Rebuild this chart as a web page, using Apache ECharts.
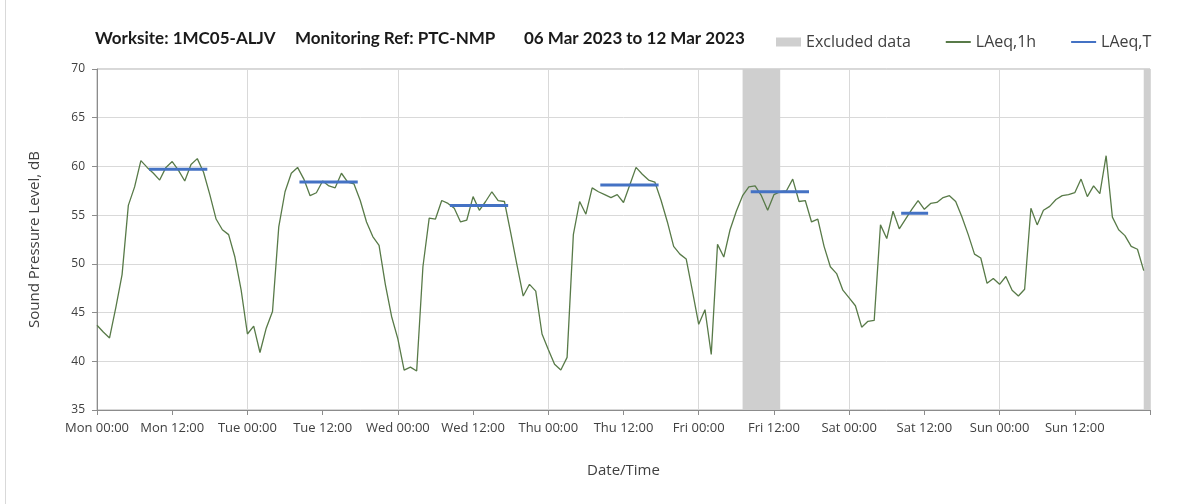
<!DOCTYPE html>
<html>
<head>
<meta charset="utf-8">
<script src="https://cdn.jsdelivr.net/npm/echarts@6/dist/echarts.min.js"></script>
<style>
  html, body { margin: 0; padding: 0; background: #fff; }
  #chart { width: 1203px; height: 504px; }
</style>
</head>
<body>
<div id="chart"></div>
<script>
// hourly LAeq,1h values, one array per day (00:00 .. 23:00)
const mon = [43.7, 43.0, 42.4, 45.5, 48.9, 56.0, 57.9, 60.6, 59.9, 59.3, 58.6, 59.9, 60.5, 59.6, 58.5, 60.2, 60.8, 59.4, 57.1, 54.6, 53.5, 53.0, 50.7, 47.3];
const tue = [42.8, 43.6, 40.9, 43.4, 45.1, 53.8, 57.4, 59.3, 59.9, 58.7, 57.0, 57.3, 58.5, 58.0, 57.8, 59.3, 58.4, 58.2, 56.5, 54.3, 52.8, 51.9, 47.9, 44.6];
const wed = [42.3, 39.1, 39.4, 39.0, 49.7, 54.7, 54.6, 56.5, 56.2, 55.7, 54.3, 54.5, 56.9, 55.5, 56.4, 57.4, 56.5, 56.4, 53.2, 49.9, 46.7, 47.9, 47.2, 42.8];
const thu = [41.2, 39.7, 39.1, 40.4, 53.0, 56.4, 55.1, 57.8, 57.4, 57.1, 56.8, 57.1, 56.3, 58.1, 59.9, 59.2, 58.6, 58.4, 56.5, 54.3, 51.8, 51.0, 50.5, 47.2];
const fri = [43.8, 45.3, 40.7, 52.0, 50.7, 53.5, 55.4, 57.0, 57.9, 58.0, 57.0, 55.5, 57.1, 57.4, 57.5, 58.7, 56.4, 56.5, 54.3, 54.6, 51.8, 49.7, 49.0, 47.3];
const sat = [46.5, 45.7, 43.5, 44.1, 44.2, 54.0, 52.6, 55.4, 53.6, 54.6, 55.6, 56.5, 55.6, 56.2, 56.3, 56.8, 57.0, 56.4, 54.8, 53.0, 51.0, 50.6, 48.0, 48.5];
const sun = [47.9, 48.7, 47.3, 46.7, 47.4, 55.7, 54.0, 55.5, 55.9, 56.6, 57.0, 57.1, 57.3, 58.7, 56.9, 58.0, 57.2, 61.1, 54.8, 53.5, 52.9, 51.8, 51.5, 49.3];

// LAeq,T per day (Mon..Sat), with start / end hour of the period
const laeqT = [59.7, 58.4, 56.0, 58.1, 57.4, 55.2];
const laeqTStart = [8.3, 8.3, 8.3, 8.3, 8.3, 8.3];
const laeqTEnd = [17.6, 17.6, 17.6, 17.6, 17.6, 12.6];

// excluded periods, hours from Mon 00:00
const excluded = [[103, 109], [167, 168]];

const dayNames = ["Mon", "Tue", "Wed", "Thu", "Fri", "Sat", "Sun"];

const hourly = [mon, tue, wed, thu, fri, sat, sun];
const lineData = [];
hourly.forEach(function (day, d) {
  day.forEach(function (v, h) {
    lineData.push([d * 24 + h, v]);
  });
});

const tData = [];
laeqT.forEach(function (v, d) {
  tData.push([d * 24 + laeqTStart[d], v]);
  tData.push([d * 24 + laeqTEnd[d], v]);
  tData.push([d * 24 + 20, "-"]);
});

const myChart = echarts.init(document.getElementById("chart"));

const titleStyle = { fontFamily: "Lato", fontSize: 17, fontWeight: "bold", color: "#1a1a1a" };

let option = {
  animation: false,
  title: [
    { text: "Worksite: 1MC05-ALJV", left: 95, top: 30, padding: 0, textStyle: titleStyle },
    { text: "Monitoring Ref: PTC-NMP", left: 295, top: 30, padding: 0, textStyle: titleStyle },
    { text: "06 Mar 2023 to 12 Mar 2023", left: 524, top: 30, padding: 0, textStyle: titleStyle }
  ],
  legend: {
    left: 776,
    top: 34,
    padding: 0,
    itemWidth: 25,
    itemHeight: 9,
    itemGap: 34,
    textStyle: { fontFamily: "Open Sans", fontSize: 16, color: "#404040" },
    data: [
      { name: "Excluded data", icon: "rect" },
      { name: "LAeq,1h", itemStyle: { opacity: 0 } },
      { name: "LAeq,T", itemStyle: { opacity: 0 } }
    ]
  },
  graphic: [{
    type: "line",
    shape: { x1: 5.5, y1: 0, x2: 5.5, y2: 504 },
    style: { stroke: "#d9d9d9", lineWidth: 1 }
  }],
  grid: {
    left: 97,
    right: 53,
    top: 69,
    bottom: 94,
    show: true,
    borderColor: "#b0b0b0",
    borderWidth: 1
  },
  xAxis: {
    type: "value",
    min: 0,
    max: 168,
    interval: 12,
    name: "Date/Time",
    nameLocation: "middle",
    nameGap: 53,
    nameTextStyle: { fontFamily: "Open Sans", fontSize: 15, color: "#404040" },
    axisLine: { lineStyle: { color: "#8c8c8c" } },
    axisTick: { show: true, length: 5, lineStyle: { color: "#8c8c8c" } },
    axisLabel: {
      margin: 12,
      fontFamily: "Open Sans",
      fontSize: 13,
      color: "#404040",
      formatter: function (v) {
        if (v >= 168) return "";
        return dayNames[Math.floor(v / 24)] + (v % 24 === 0 ? " 00:00" : " 12:00");
      }
    },
    splitLine: { show: true, lineStyle: { color: ["#d9d9d9", "rgba(0,0,0,0)"] } }
  },
  yAxis: {
    type: "value",
    min: 35,
    max: 70,
    interval: 5,
    name: "Sound Pressure Level, dB",
    nameLocation: "middle",
    nameGap: 55,
    nameTextStyle: { fontFamily: "Open Sans", fontSize: 15, color: "#404040" },
    axisLine: { show: true, lineStyle: { color: "#8c8c8c" } },
    axisTick: { show: true, length: 5, lineStyle: { color: "#8c8c8c" } },
    axisLabel: { margin: 12, fontFamily: "Open Sans", fontSize: 12, color: "#404040" },
    splitLine: { lineStyle: { color: "#d9d9d9" } }
  },
  series: [
    {
      name: "Excluded data",
      type: "line",
      z: 1,
      data: [],
      itemStyle: { color: "#cfcfcf" },
      markArea: {
        silent: true,
        itemStyle: { color: "#cfcfcf" },
        data: excluded.map(function (r) { return [{ xAxis: r[0] }, { xAxis: r[1] }]; })
      }
    },
    {
      name: "LAeq,1h",
      type: "line",
      z: 3,
      data: lineData,
      showSymbol: false,
      symbol: "none",
      color: "#587a48",
      lineStyle: { width: 1.3, color: "#587a48" }
    },
    {
      name: "LAeq,T",
      type: "line",
      z: 4,
      data: tData,
      showSymbol: false,
      symbol: "none",
      connectNulls: false,
      color: "#4472c4",
      lineStyle: { width: 3, color: "#4472c4" }
    }
  ]
};

myChart.setOption(option);
</script>
</body>
</html>
